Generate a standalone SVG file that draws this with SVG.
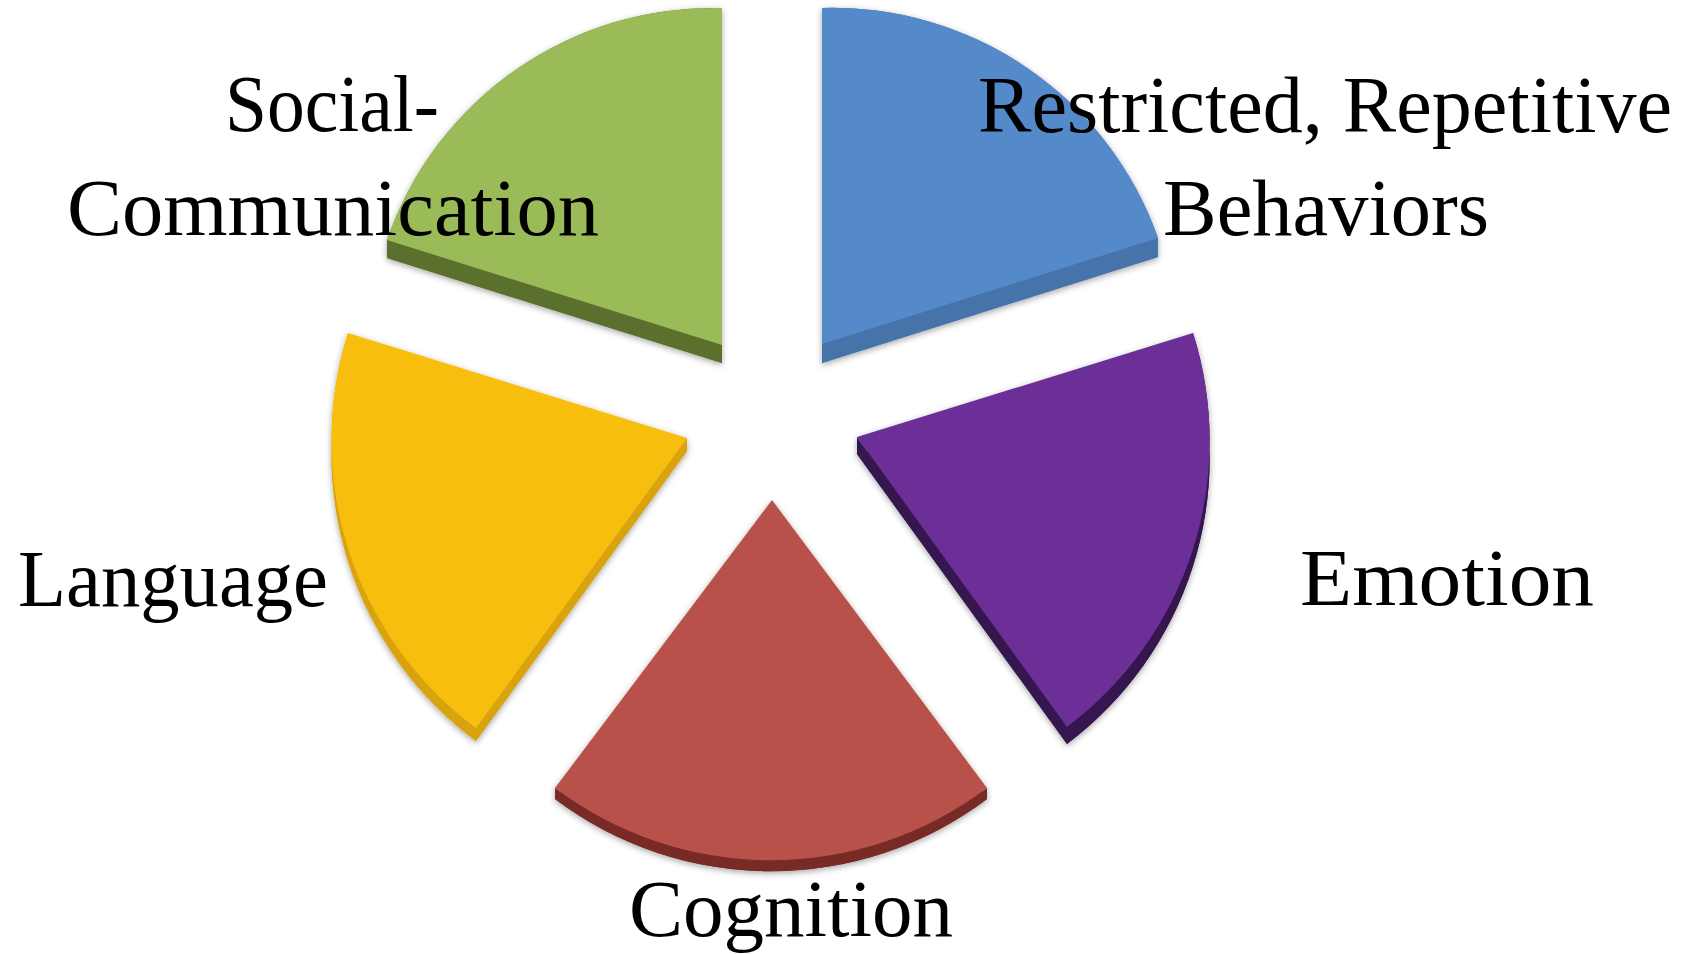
<svg xmlns="http://www.w3.org/2000/svg" width="1698" height="954" viewBox="0 0 1698 954">
  <defs>
    <filter id="soft" x="-10%" y="-10%" width="120%" height="120%">
      <feDropShadow dx="0" dy="2" stdDeviation="3" flood-color="#000" flood-opacity="0.35"/>
    </filter>
    <style>
      .label { font-family: "Liberation Serif", "Times New Roman", serif; font-size: 80px; fill: #000; }
      .g-top { fill: #9bbb59; } .g-side { fill: #5b6f2f; }
      .b-top { fill: #558aca; } .b-side { fill: #4673ab; }
      .p-top { fill: #6c2f97; } .p-side { fill: #351850; }
      .r-top { fill: #b9514b; } .r-side { fill: #772a26; }
      .y-top { fill: #f8be10; } .y-side { fill: #d9a30c; }
    </style>
  </defs>
  <rect width="1698" height="954" fill="#fff"/>

  <!-- Social-Communication wedge (198°–270°) -->
  <g id="slice-social">
    <g filter="url(#soft)">
      <g class="g-side">
        <path d="M722,363 L722,26 A345,345 0 0 0 387,258 Z"/>
        <path d="M387,240 L722,345 L722,363 L387,258 Z"/>
        <path d="M722,8 A345,345 0 0 0 387,240 L387,258 A345,345 0 0 1 722,26 Z"/>
      </g>
      <path class="g-top" d="M722,345 L722,8 A345,345 0 0 0 387,240 Z"/>
    </g>
    <text class="label" x="225" y="131" textLength="214" lengthAdjust="spacingAndGlyphs">Social-</text>
    <text class="label" x="67" y="235" textLength="532" lengthAdjust="spacingAndGlyphs">Communication</text>
  </g>

  <!-- Restricted, Repetitive Behaviors wedge (270°–342°) -->
  <g id="slice-rrb">
    <g filter="url(#soft)">
      <g class="b-side">
        <path d="M822,363 L822,27 A345,345 0 0 1 1158,257 Z"/>
        <path d="M1158,238 L822,344 L822,363 L1158,257 Z"/>
        <path d="M822,8 A345,345 0 0 1 1158,238 L1158,257 A345,345 0 0 0 822,27 Z"/>
      </g>
      <path class="b-top" d="M822,344 L822,8 A345,345 0 0 1 1158,238 Z"/>
    </g>
    <text class="label" x="978" y="132" textLength="694" lengthAdjust="spacingAndGlyphs">Restricted, Repetitive</text>
    <text class="label" x="1163" y="235" textLength="326" lengthAdjust="spacingAndGlyphs">Behaviors</text>
  </g>

  <!-- Emotion wedge (342°–54°) -->
  <g id="slice-emotion">
    <g filter="url(#soft)">
      <g class="p-side">
        <path d="M857,454 L1193,350 A358,358 0 0 1 1067,744 Z"/>
        <path d="M1067,727 L857,437 L857,454 L1067,744 Z"/>
        <path d="M1193,333 A358,358 0 0 1 1067,727 L1067,744 A358,358 0 0 0 1193,350 Z"/>
      </g>
      <path class="p-top" d="M857,437 L1193,333 A358,358 0 0 1 1067,727 Z"/>
    </g>
    <text class="label" x="1300" y="605" textLength="294" lengthAdjust="spacingAndGlyphs">Emotion</text>
  </g>

  <!-- Cognition wedge (54°–126°) -->
  <g id="slice-cognition">
    <g filter="url(#soft)">
      <g class="r-side">
        <path d="M772,511 L987,799 A359,359 0 0 1 555,799 Z"/>
        <path d="M987,788 A359,359 0 0 1 555,788 L555,799 A359,359 0 0 0 987,799 Z"/>
      </g>
      <path class="r-top" d="M772,500 L987,788 A359,359 0 0 1 555,788 Z"/>
    </g>
    <text class="label" x="629" y="936" textLength="324" lengthAdjust="spacingAndGlyphs">Cognition</text>
  </g>

  <!-- Language wedge (126°–198°) -->
  <g id="slice-language">
    <g filter="url(#soft)">
      <g class="y-side">
        <path d="M687,451 L476,741 A358,358 0 0 1 348,346 Z"/>
        <path d="M687,438 L476,728 L476,741 L687,451 Z"/>
        <path d="M476,728 A358,358 0 0 1 348,333 L348,346 A358,358 0 0 0 476,741 Z"/>
      </g>
      <path class="y-top" d="M687,438 L476,728 A358,358 0 0 1 348,333 Z"/>
    </g>
    <text class="label" x="18" y="606" textLength="310" lengthAdjust="spacingAndGlyphs">Language</text>
  </g>
</svg>
